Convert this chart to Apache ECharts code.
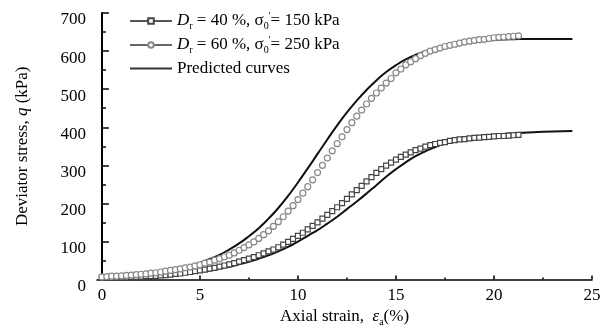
<!DOCTYPE html>
<html>
<head>
<meta charset="utf-8">
<script src="https://cdn.jsdelivr.net/npm/echarts@6/dist/echarts.min.js"></script>
<style>
  html, body { margin: 0; padding: 0; background: #fff; }
  #chart-container { width: 606px; height: 332px; }
</style>
</head>
<body>
<div id="chart-container"></div>
<script>
// test points (axial strain %, deviator stress kPa)
const strainTest = [
  0, 0.25, 0.5, 0.75, 1, 1.25, 1.5, 1.75,
  2, 2.25, 2.5, 2.75, 3, 3.25, 3.5, 3.75,
  4, 4.25, 4.5, 4.75, 5, 5.25, 5.5, 5.75,
  6, 6.25, 6.5, 6.75, 7, 7.25, 7.5, 7.75,
  8, 8.25, 8.5, 8.75, 9, 9.25, 9.5, 9.75,
  10, 10.25, 10.5, 10.75, 11, 11.25, 11.5, 11.75,
  12, 12.25, 12.5, 12.75, 13, 13.25, 13.5, 13.75,
  14, 14.25, 14.5, 14.75, 15, 15.25, 15.5, 15.75,
  16, 16.25, 16.5, 16.75, 17, 17.25, 17.5, 17.75,
  18, 18.25, 18.5, 18.75, 19, 19.25, 19.5, 19.75,
  20, 20.25, 20.5, 20.75, 21, 21.25
];
const stressDr40 = [
  5, 5, 5, 6, 6, 6, 7, 7,
  8, 9, 9, 10, 11, 12, 13, 15,
  16, 18, 20, 22, 24, 26, 29, 31,
  34, 37, 40, 43, 47, 51, 55, 59,
  64, 69, 74, 79, 85, 92, 99, 107,
  115, 123, 132, 141, 150, 160, 170, 180,
  190, 201, 212, 224, 235, 246, 258, 269,
  280, 290, 299, 307, 315, 322, 328, 334,
  340, 344, 349, 353, 356, 359, 361, 364,
  366, 368, 369, 371, 372, 373, 374, 375,
  376, 377, 377, 378, 379, 380
];
const stressDr60 = [
  7, 8, 9, 9, 10, 11, 12, 13,
  14, 15, 17, 18, 20, 22, 24, 26,
  28, 31, 33, 36, 39, 43, 46, 51,
  55, 60, 64, 70, 77, 84, 91, 99,
  108, 118, 128, 140, 152, 165, 180, 194,
  210, 227, 244, 262, 281, 300, 319, 338,
  357, 375, 394, 412, 429, 445, 461, 476,
  490, 503, 516, 528, 543, 553, 564, 572,
  580, 588, 594, 600, 604, 608, 612, 615,
  618, 621, 624, 626, 628, 630, 631, 633,
  635, 636, 637, 638, 639, 640
];

// predicted curves
const strainPred = [
  0, 0.5, 1, 1.5, 2, 2.5, 3, 3.5, 4, 4.5,
  5, 5.5, 6, 6.5, 7, 7.5, 8, 8.5, 9, 9.5,
  10, 10.5, 11, 11.5, 12, 12.5, 13, 13.5, 14, 14.5,
  15, 15.5, 16, 16.5, 17, 17.5, 18, 18.5, 19, 19.5,
  20, 21, 22, 23, 24
];
const predDr40 = [
  4, 4, 5, 6, 7, 8, 10, 12, 14, 17,
  20, 24, 29, 34, 40, 47, 55, 64, 74, 86,
  100, 115, 130, 147, 165, 185, 205, 226, 248, 270,
  290, 308, 324, 337, 348, 357, 364, 370, 374, 377,
  380, 384, 387, 389, 390
];
const predDr60 = [
  8, 9, 10, 12, 14, 17, 20, 25, 30, 36,
  44, 54, 65, 79, 95, 114, 135, 160, 188, 220,
  255, 292, 330, 368, 405, 439, 470, 498, 523, 545,
  563, 578, 590, 600, 607, 613, 618, 622, 625, 627,
  629, 631, 632, 632, 632
];

const xMajorTicks = [0, 5, 10, 15, 20, 25];
const xMinorTicks = [2.5, 7.5, 12.5, 17.5, 22.5];

const legendLabels = {
  dr40: "{i|D}{sub|r} = 40 %, σ{sub|0}{sup|'}= 150 kPa",
  dr60: "{i|D}{sub|r} = 60 %, σ{sub|0}{sup|'}= 250 kPa",
  "Predicted curves": "Predicted curves"
};

function pairs(xs, ys) {
  return xs.map((x, i) => [x, ys[i]]);
}

const FONT = "Liberation Serif";
const FS = 17;
const richText = {
  i: { fontStyle: "italic", fontFamily: FONT, fontSize: FS, color: "#000" },
  sub: { fontFamily: FONT, fontSize: 10, color: "#000", padding: [10, 0, 0, 0] },
  sup: { fontFamily: FONT, fontSize: 10, color: "#000", padding: [0, 0, 10, 0] }
};

var dom = document.getElementById("chart-container");
var myChart = echarts.init(dom, null, { renderer: "canvas" });

var option = {
  animation: false,
  grid: { left: 97, right: 14, top: 13, bottom: 47, containLabel: false },
  legend: {
    left: 124,
    top: 6,
    orient: "vertical",
    itemWidth: 42,
    itemHeight: 7,
    itemGap: 4,
    data: [
      { name: "dr40", lineStyle: { width: 2, color: "#555", opacity: 1 } },
      { name: "dr60", lineStyle: { width: 2, color: "#666", opacity: 1 } },
      { name: "Predicted curves", itemStyle: { opacity: 0 }, lineStyle: { width: 2, color: "#333", opacity: 1 } }
    ],
    formatter: (name) => legendLabels[name],
    textStyle: { fontFamily: FONT, fontSize: FS, color: "#000", lineHeight: 19, rich: richText }
  },
  xAxis: [
    {
      type: "value",
      min: -0.25,
      max: 25,
      name: "Axial strain,  {i|ε}{sub|a}(%)",
      nameLocation: "middle",
      nameGap: 26,
      nameTextStyle: { fontFamily: FONT, fontSize: FS, color: "#000", rich: richText },
      axisLine: { lineStyle: { color: "#000", width: 1.5 } },
      axisTick: { inside: true, length: 4, customValues: xMajorTicks, lineStyle: { color: "#000", width: 1.5 } },
      axisLabel: { customValues: xMajorTicks, margin: 7, fontFamily: FONT, fontSize: FS, color: "#000" },
      splitLine: { show: false }
    },
    {
      type: "value",
      position: "bottom",
      min: -0.25,
      max: 25,
      axisLine: { show: false },
      axisTick: { inside: true, length: 2, customValues: xMinorTicks, lineStyle: { color: "#000", width: 1.5 } },
      axisLabel: { show: false },
      splitLine: { show: false }
    }
  ],
  yAxis: {
    type: "value",
    min: 0,
    max: 700,
    interval: 100,
    name: "Deviator stress, {i|q} (kPa)",
    nameLocation: "middle",
    nameRotate: 90,
    nameGap: 66,
    nameTextStyle: { fontFamily: FONT, fontSize: FS, color: "#000", rich: richText },
    axisLine: { show: true, lineStyle: { color: "#000", width: 2 } },
    axisTick: { show: true, inside: true, length: 7, lineStyle: { color: "#000", width: 1.5 } },
    minorTick: { show: true, splitNumber: 2, length: 4, lineStyle: { color: "#000", width: 1.5 } },
    axisLabel: { margin: 11, verticalAlign: "top", lineHeight: 14, fontFamily: FONT, fontSize: FS, color: "#000" },
    splitLine: { show: false }
  },
  series: [
    {
      name: "dr40",
      type: "line",
      data: pairs(strainTest, stressDr40),
      symbol: "rect",
      symbolSize: 5,
      showAllSymbol: true,
      lineStyle: { width: 0, opacity: 0 },
      itemStyle: { color: "#fff", borderColor: "#444", borderWidth: 1.2 }
    },
    {
      name: "dr60",
      type: "line",
      data: pairs(strainTest, stressDr60),
      symbol: "circle",
      symbolSize: 6,
      showAllSymbol: true,
      lineStyle: { width: 0, opacity: 0 },
      itemStyle: { color: "#fff", borderColor: "#888", borderWidth: 1.2 }
    },
    {
      name: "Predicted curves",
      type: "line",
      data: pairs(strainPred, predDr40),
      smooth: true,
      symbol: "none",
      lineStyle: { color: "#111", width: 2 },
      itemStyle: { color: "#111" }
    },
    {
      name: "Predicted curves",
      type: "line",
      data: pairs(strainPred, predDr60),
      smooth: true,
      symbol: "none",
      lineStyle: { color: "#111", width: 2 },
      itemStyle: { color: "#111" }
    }
  ]
};

if (option && typeof option === "object") {
  myChart.setOption(option);
}

window.addEventListener("resize", myChart.resize);
</script>
</body>
</html>
